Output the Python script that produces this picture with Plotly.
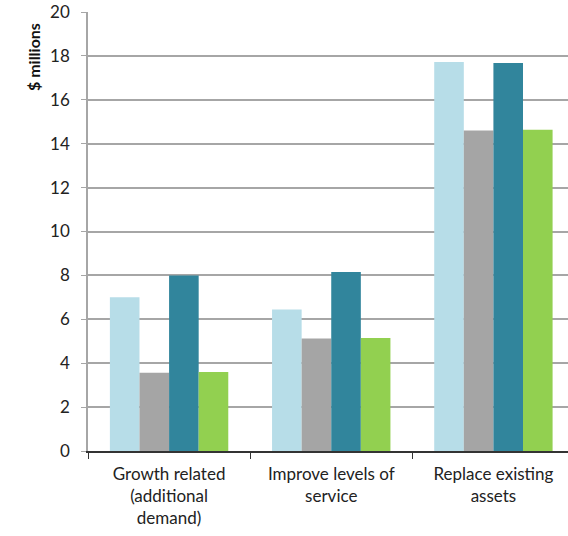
import plotly.graph_objects as go

categories = ["Growth related<br>(additional<br>demand)", "Improve levels of<br>service", "Replace existing<br>assets"]
series_a = [7.0, 6.45, 17.72]
series_b = [3.57, 5.12, 14.6]
series_c = [8.0, 8.15, 17.68]
series_d = [3.6, 5.15, 14.63]
colors = ["#b7dde8", "#a5a5a5", "#31859c", "#92d050"]
y_ticks = list(range(0, 21, 2))

fig = go.Figure()
for vals, col in zip([series_a, series_b, series_c, series_d], colors):
    fig.add_trace(go.Bar(x=categories, y=vals, marker=dict(color=col, line=dict(width=0)), showlegend=False))

fig.update_layout(
    width=568, height=536,
    margin=dict(l=88, r=0, t=12, b=85),
    paper_bgcolor="white", plot_bgcolor="white",
    barmode="group", bargap=0.27, bargroupgap=0,
    font=dict(family="Lato, Open Sans, sans-serif", size=17, color="#222"),
    xaxis=dict(range=[-0.5, 2.46], showline=True, linecolor="#333", linewidth=1.5,
               ticks="outside", tickson="boundaries", ticklen=6, tickcolor="#333",
               ticklabelstandoff=7,
               tickfont=dict(size=17, color="#222")),
    yaxis=dict(range=[0, 20], tickvals=y_ticks, showgrid=True, gridcolor="#a6a6a6", gridwidth=1.5,
               showline=True, linecolor="#a6a6a6", linewidth=1.5, ticks="outside", ticklen=5,
               tickcolor="#a6a6a6", ticklabelstandoff=8,
               tickfont=dict(size=17, color="#222"), zeroline=False),
    annotations=[dict(text="<b>$ millions</b>", showarrow=False, textangle=-90,
                      xref="paper", yref="paper",
                      x=(33 - 88) / 480, y=(536 - 85 - 57) / 439, xanchor="center", yanchor="middle",
                      font=dict(size=16, color="#111"))],
)
fig.write_html("out.html")
